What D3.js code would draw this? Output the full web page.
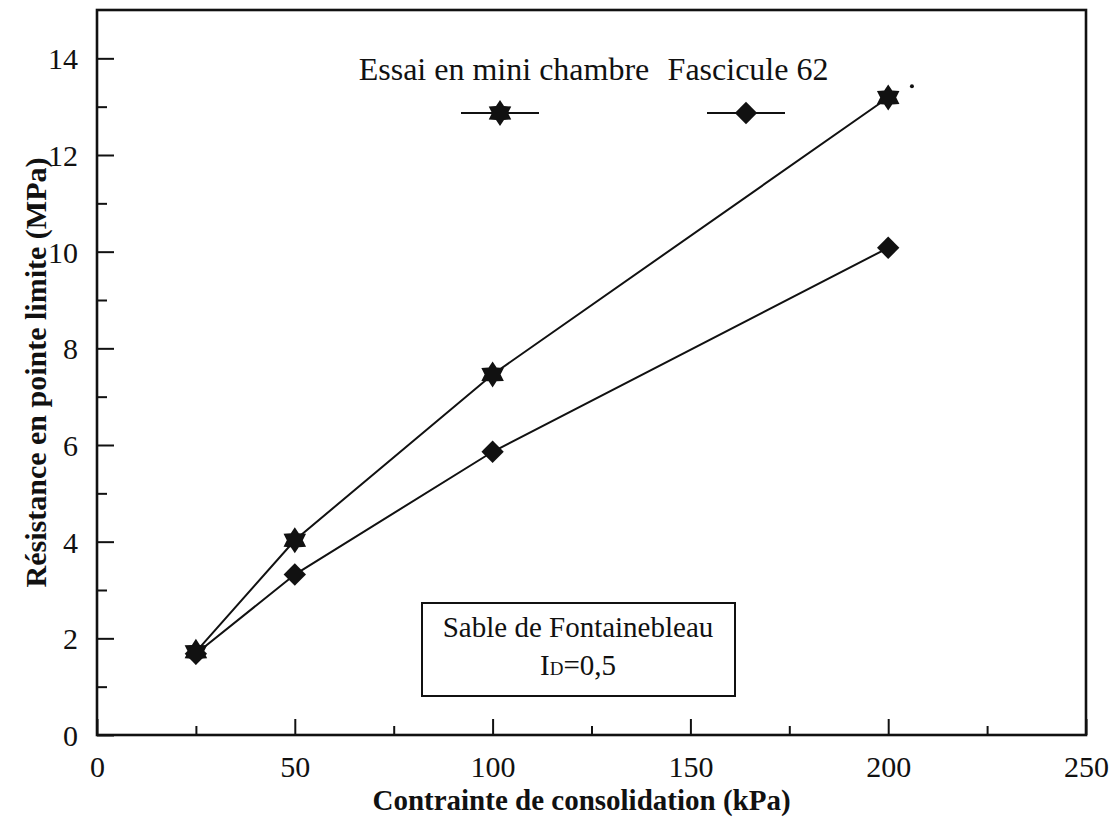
<!DOCTYPE html>
<html>
<head>
<meta charset="utf-8">
<script src="https://cdn.jsdelivr.net/npm/d3@7/dist/d3.min.js"></script>
<style>
  html, body { margin: 0; padding: 0; background: #fff; }
  svg { display: block; }
  text { font-family: "Liberation Serif", "Times New Roman", serif; fill: #111; }
</style>
</head>
<body>
<svg id="chart" width="1116" height="827"></svg>
<script>
// ---- data ----
const pressures = [25, 50, 100, 200];               // Contrainte de consolidation (kPa)
const miniChambre = [1.72, 4.03, 7.46, 13.19];      // Essai en mini chambre (MPa)
const fascicule62 = [1.68, 3.32, 5.86, 10.08];      // Fascicule 62 (MPa)
const seriesNames = ["Essai en mini chambre", "Fascicule 62"];
const xTicks = [0, 50, 100, 150, 200, 250];
const xMinorTicks = [25, 75, 125, 175, 225];
const yTicks = [0, 2, 4, 6, 8, 10, 12, 14];
const yMinorTicks = [1, 3, 5, 7, 9, 11, 13];
const xTitle = "Contrainte de consolidation (kPa)";
const yTitle = "Résistance en pointe limite (MPa)";
const boxLine1 = "Sable de Fontainebleau";

// ---- layout ----
const svg = d3.select("#chart");
const L = 97, R = 1086, T = 10, B = 735;
const x = d3.scaleLinear().domain([0, 250]).range([L, R]);
const y = d3.scaleLinear().domain([0, 15]).range([B, T]);

const ink = "#111";

// frame
svg.append("rect").attr("x", L).attr("y", T).attr("width", R - L).attr("height", B - T)
  .attr("fill", "none").attr("stroke", ink).attr("stroke-width", 2.6);

// axes (ticks inward)
const xAxis = svg.append("g").attr("transform", `translate(0,${B})`)
  .call(d3.axisBottom(x).tickValues(xTicks).tickSize(-16).tickPadding(26).tickFormat(d3.format("d")));
const xMinor = svg.append("g").attr("transform", `translate(0,${B})`)
  .call(d3.axisBottom(x).tickValues(xMinorTicks).tickSize(-9).tickFormat(""));
const yAxis = svg.append("g").attr("transform", `translate(${L},0)`)
  .call(d3.axisLeft(y).tickValues(yTicks).tickSize(-17).tickPadding(35).tickFormat(d3.format("d")));
const yMinor = svg.append("g").attr("transform", `translate(${L},0)`)
  .call(d3.axisLeft(y).tickValues(yMinorTicks).tickSize(-10).tickFormat(""));

[xAxis, xMinor, yAxis, yMinor].forEach(g => {
  g.select(".domain").remove();
  g.selectAll("line").attr("stroke", ink).attr("stroke-width", 2);
  g.selectAll("text").attr("font-size", 30).attr("fill", ink)
    .style("font-family", "'Liberation Serif', 'Times New Roman', serif");
});
xAxis.selectAll("text").attr("dy", "0.71em").attr("y", 21);
yAxis.selectAll("text").attr("x", -19).attr("dy", "0.35em");

// axis titles
svg.append("text").attr("x", (L + R) / 2 - 10).attr("y", 810)
  .attr("text-anchor", "middle").attr("font-size", 29).attr("font-weight", "bold").text(xTitle);
svg.append("text").attr("transform", `translate(46,${(T + B) / 2}) rotate(-90)`)
  .attr("text-anchor", "middle").attr("font-size", 30).attr("font-weight", "bold").text(yTitle);

// symbols
function starPath(rOut, rIn) {
  const pts = [];
  for (let i = 0; i < 12; i++) {
    const a = -Math.PI / 2 + i * Math.PI / 6;
    const r = i % 2 === 0 ? rOut : rIn;
    pts.push([r * Math.cos(a), r * Math.sin(a)]);
  }
  return "M" + pts.map(p => p.join(",")).join("L") + "Z";
}
const star = starPath(13, 8);
const diamond = d3.symbol().type(d3.symbolSquare).size(250)();

const line = d3.line().x(d => x(d[0])).y(d => y(d[1]));
const series = [
  { name: seriesNames[0], values: miniChambre, sym: star, rot: 0 },
  { name: seriesNames[1], values: fascicule62, sym: diamond, rot: 45 }
];

series.forEach(s => {
  const pts = pressures.map((p, i) => [p, s.values[i]]);
  svg.append("path").attr("d", line(pts)).attr("fill", "none")
    .attr("stroke", ink).attr("stroke-width", 2);
  svg.append("g").selectAll("path").data(pts).join("path")
    .attr("d", s.sym)
    .attr("transform", d => `translate(${x(d[0])},${y(d[1])}) rotate(${s.rot})`)
    .attr("fill", ink);
});

// small stray mark near the last point
svg.append("circle").attr("cx", x(206)).attr("cy", y(13.42)).attr("r", 2).attr("fill", ink);

// legend
const legendY = 113;
const legendItems = [
  { cx: 500, textX: 504, s: series[0] },
  { cx: 746, textX: 748, s: series[1] }
];
legendItems.forEach(li => {
  svg.append("text").attr("x", li.textX).attr("y", 80).attr("text-anchor", "middle")
    .attr("font-size", 32).text(li.s.name);
  svg.append("line").attr("x1", li.cx - 39).attr("x2", li.cx + 39)
    .attr("y1", legendY).attr("y2", legendY).attr("stroke", ink).attr("stroke-width", 2);
  svg.append("path").attr("d", li.s.sym)
    .attr("transform", `translate(${li.cx},${legendY}) rotate(${li.s.rot})`).attr("fill", ink);
});

// annotation box
svg.append("rect").attr("x", 422).attr("y", 603).attr("width", 313).attr("height", 93)
  .attr("fill", "#fff").attr("stroke", ink).attr("stroke-width", 2);
svg.append("text").attr("x", 578).attr("y", 637).attr("text-anchor", "middle")
  .attr("font-size", 29).text(boxLine1);
const t2 = svg.append("text").attr("x", 578).attr("y", 675).attr("text-anchor", "middle").attr("font-size", 29);
t2.append("tspan").text("I");
t2.append("tspan").attr("font-size", 19).text("D");
t2.append("tspan").text("=0,5");
</script>
</body>
</html>
